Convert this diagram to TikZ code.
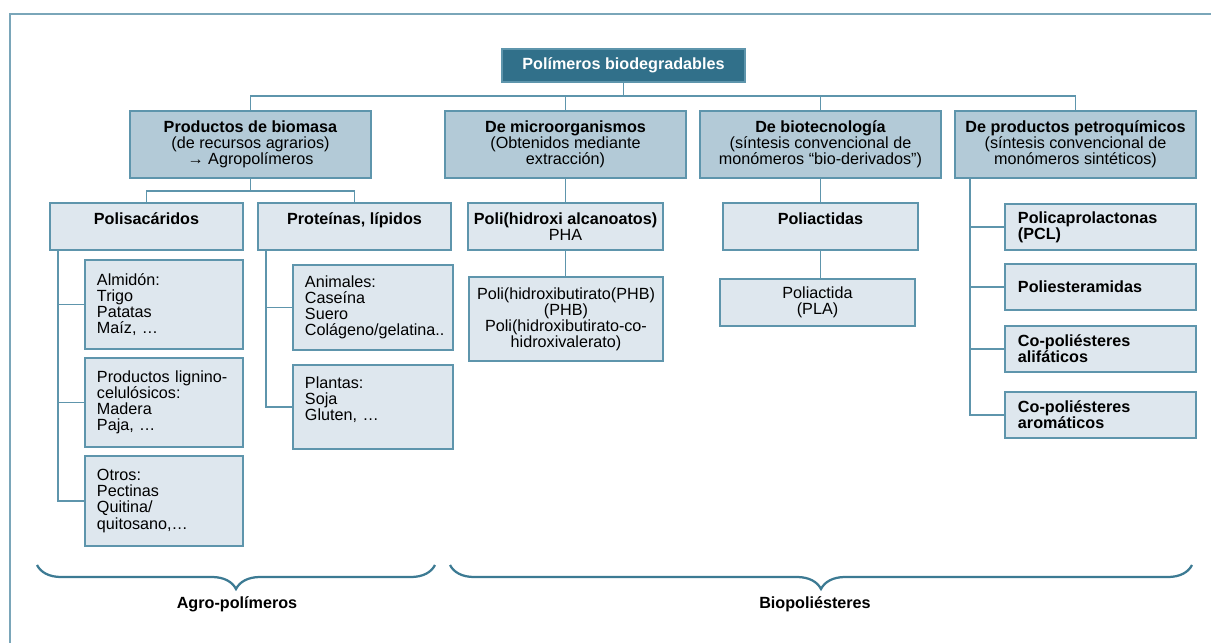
\documentclass[tikz,border=0pt]{standalone}
\usepackage{fontspec}
\setmainfont{Liberation Sans}
\newcommand*{\chartfont}{\fontsize{11.5}{11.4}\selectfont}
\definecolor{D}{HTML}{31708A}
\definecolor{M}{HTML}{B3CAD7}
\definecolor{P}{HTML}{DEE7EE}
\definecolor{L}{HTML}{5E95AC}
\definecolor{F}{HTML}{7AA6B9}
\definecolor{B}{HTML}{3C7A93}
\usetikzlibrary{decorations.pathreplacing}
\tikzstyle{base}=[inner sep=0pt, outer sep=0pt, x=0.025cm, y=-0.025cm, line width=0.9pt]
\tikzstyle{rootbox}=[draw=L, fill=D, text=white, font=\bfseries, minimum width=6.075cm, minimum height=0.825cm]
\tikzstyle{groupbox}=[draw=L, fill=M, align=center, minimum width=6.025cm, minimum height=1.675cm]
\tikzstyle{classbox}=[draw=L, fill=P, align=center, font=\bfseries, minimum width=4.875cm, minimum height=1.175cm]
\tikzstyle{plainbox}=[draw=L, fill=P, align=center]
\tikzstyle{listbox}=[draw=L, fill=P, align=left, inner xsep=0.3cm, text width=3.35cm]
\tikzstyle{petrobox}=[draw=L, fill=P, align=left, font=\bfseries, inner xsep=0.325cm, text width=4.125cm, minimum height=1.15cm]
\tikzstyle{link}=[draw=L, line width=1pt]

\begin{document}
\begin{tikzpicture}[base]
    \chartfont
        \useasboundingbox (0,0) rectangle (1211,643);
        \draw [F, line width=1.1pt] (10,643) -- (10,14) -- (1211,14);

        \node [rootbox] (poly) at (623.5,65.5) {Polímeros biodegradables};

        \node [groupbox] (bio) at (250.5,144.5) {\textbf{Productos de biomasa}\\(de recursos agrarios)\\→ Agropolímeros};
        \node [groupbox] (micro) at (565.5,144.5) {\textbf{De microorganismos}\\(Obtenidos mediante\\extracción)};
        \node [groupbox] (biotec) at (820.5,144.5) {\textbf{De biotecnología}\\(síntesis convencional de\\monómeros “bio-derivados”)};
        \node [groupbox] (petro) at (1075.5,144.5) {\textbf{De productos petroquímicos}\\(síntesis convencional de\\monómeros sintéticos)};

        \node [classbox, minimum width=4.825cm] (polisac) at (146.5,226.5) {Polisacáridos\\\mbox{}};
        \node [classbox, minimum width=4.825cm] (prot) at (354.5,226.5) {Proteínas, lípidos\\\mbox{}};
        \node [classbox] (pha) at (565.5,226.5) {Poli(hidroxi alcanoatos)\\{\mdseries PHA}};
        \node [classbox] (polia) at (820.5,226.5) {Poliactidas\\\mbox{}};

        \node [plainbox, minimum width=4.85cm, minimum height=2.1cm] (phb) at (566,319) {Poli(hidroxibutirato(PHB)\\(PHB)\\Poli(hidroxibutirato-co-\\hidroxivalerato)};
        \node [plainbox, minimum width=4.875cm, minimum height=1.175cm] (pla) at (817.5,302.5) {Poliactida\\(PLA)};

        \node [listbox, minimum height=2.225cm] (almidon) at (164,304.5) {Almidón:\\Trigo\\Patatas\\Maíz, …};
        \node [listbox, minimum height=2.225cm] (lignin) at (164,402.5) {Productos lignino-\\celulósicos:\\Madera\\Paja, …};
        \node [listbox, minimum height=2.25cm] (otros) at (164,501) {Otros:\\Pectinas\\Quitina/\\quitosano,…};
        \node [listbox, text width=3.4cm, minimum height=2.125cm] (animal) at (373,307.5) {Animales:\\Caseína\\Suero\\Colágeno/gelatina..};
        \node [listbox, text width=3.4cm, minimum height=2.1cm] (planta) at (373,407) {Plantas:\\Soja\\Gluten, …\\\mbox{}};

        \node [petrobox] (pcl) at (1100.5,227) {Policaprolactonas\\(PCL)};
        \node [petrobox] (pea) at (1100.5,287) {Poliesteramidas};
        \node [petrobox] (alif) at (1100.5,349) {Co-poliésteres\\alifáticos};
        \node [petrobox] (arom) at (1100.5,415) {Co-poliésteres\\aromáticos};

        \coordinate (rootbus) at (623.5,96);
        \draw [link] (poly) -- (rootbus);
        \draw [link] (bio.north) |- (rootbus) -| (petro.north);
        \draw [link] (micro.north) -- (micro.north |- rootbus);
        \draw [link] (biotec.north) -- (biotec.north |- rootbus);

        \coordinate (biobus) at (250.5,191);
        \draw [link] (bio) -- (biobus);
        \draw [link] (polisac.north) |- (biobus) -| (prot.north);

        \coordinate (polistem) at ([xshift=0.2cm]polisac.south west);
        \draw [link] (polistem) |- (otros.west);
        \draw [link] (almidon.west) -- (almidon.west -| polistem);
        \draw [link] (lignin.west) -- (lignin.west -| polistem);

        \coordinate (protstem) at ([xshift=0.2cm]prot.south west);
        \draw [link] (protstem) |- (planta.west);
        \draw [link] (animal.west) -- (animal.west -| protstem);

        \draw [link] (micro) -- (pha);
        \draw [link] (pha.south) -- (pha.south |- phb.north);
        \draw [link] (biotec) -- (polia);
        \draw [link] (polia.south) -- (polia.south |- pla.north);

        \coordinate (petrostem) at ([xshift=0.375cm]petro.south west);
        \draw [link] (petrostem) |- (arom.west);
        \draw [link] (pcl.west) -- (pcl.west -| petrostem);
        \draw [link] (pea.west) -- (pea.west -| petrostem);
        \draw [link] (alif.west) -- (alif.west -| petrostem);

        \draw [B, line width=1.6pt, decorate, decoration={brace, mirror, amplitude=0.6cm}] (37,565) -- (435,565);
        \draw [B, line width=1.6pt, decorate, decoration={brace, mirror, amplitude=0.6cm}] (450,565) -- (1192,565);
        \node [font=\bfseries] (agro) at (237,604) {Agro-polímeros};
        \node [font=\bfseries] (biopol) at (815,604) {Biopoliésteres};
    \end{tikzpicture}
\end{document}
